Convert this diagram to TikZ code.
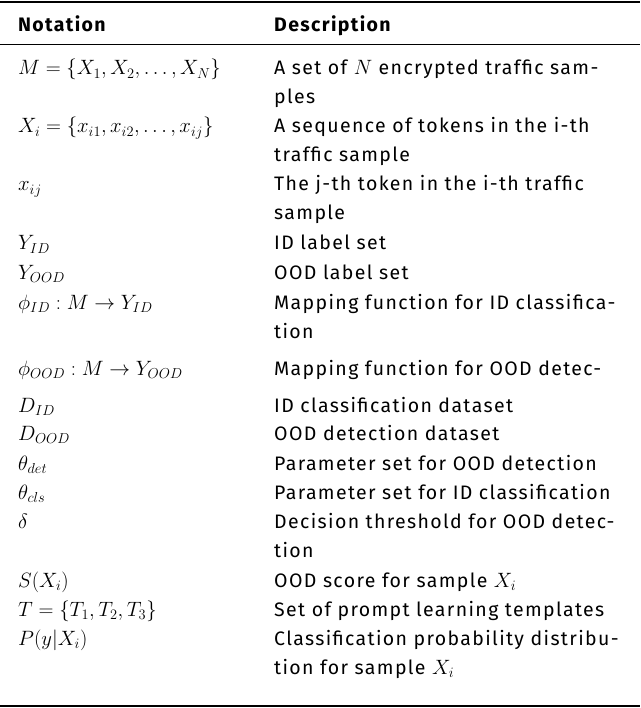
\documentclass[tikz,border=0pt]{standalone}
\usepackage{fontspec}
\setmainfont[LetterSpace=7]{Fira Sans}
\begin{document}
\begin{tikzpicture}[x=1pt,y=-1pt,
  txt/.style={anchor=base west,inner sep=0pt,font=\fontsize{19.5}{22}\selectfont},
  hd/.style={txt,font=\fontsize{19.5}{22}\selectfont\bfseries},
  rulethick/.style={line width=1.2pt},
  rulethin/.style={line width=0.6pt}]
\useasboundingbox (0,0) rectangle (640,708);
\draw[rulethick] (0,2) -- (640,2);
\draw[rulethin] (0,44) -- (640,44);
\draw[rulethick] (0,706) -- (640,706);
\node[hd] (h1) at (18,32) {Notation};
\node[hd] (h2) at (274,32) {Description};
\newcommand{\rowN}[3]{\node[txt] (n#1) at (18,#2) {$#3$};}
\newcommand{\rowD}[3]{\node[txt] (d#1) at (274,#2) {#3};}
\rowN{1}{75}{M=\{X_1,X_2,\ldots,X_N\}}
\rowD{1}{75}{A set of $N$ encrypted traffic sam-}
\rowD{1b}{104}{ples}
\rowN{2}{133}{X_i=\{x_{i1},x_{i2},\ldots,x_{ij}\}}
\rowD{2}{133}{A sequence of tokens in the i-th}
\rowD{2b}{162}{traffic sample}
\rowN{3}{191}{x_{ij}}
\rowD{3}{191}{The j-th token in the i-th traffic}
\rowD{3b}{220}{sample}
\rowN{4}{250}{Y_{ID}}
\rowD{4}{250}{ID label set}
\rowN{5}{279}{Y_{OOD}}
\rowD{5}{279}{OOD label set}
\rowN{6}{309}{\phi_{ID}:M\rightarrow Y_{ID}}
\rowD{6}{309}{Mapping function for ID classifica-}
\rowD{6b}{338}{tion}
\rowN{7}{375}{\phi_{OOD}:M\rightarrow Y_{OOD}}
\rowD{7}{375}{Mapping function for OOD detec-}
\rowN{8}{412}{D_{ID}}
\rowD{8}{412}{ID classification dataset}
\rowN{9}{440}{D_{OOD}}
\rowD{9}{440}{OOD detection dataset}
\rowN{10}{470}{\theta_{det}}
\rowD{10}{470}{Parameter set for OOD detection}
\rowN{11}{499}{\theta_{cls}}
\rowD{11}{499}{Parameter set for ID classification}
\rowN{12}{528}{\delta}
\rowD{12}{528}{Decision threshold for OOD detec-}
\rowD{12b}{557}{tion}
\rowN{13}{587}{S(X_i)}
\rowD{13}{587}{OOD score for sample $X_i$}
\rowN{14}{616}{T=\{T_1,T_2,T_3\}}
\rowD{14}{616}{Set of prompt learning templates}
\rowN{15}{645}{P(y|X_i)}
\rowD{15}{645}{Classification probability distribu-}
\rowD{15b}{674}{tion for sample $X_i$}
\end{tikzpicture}
\end{document}
